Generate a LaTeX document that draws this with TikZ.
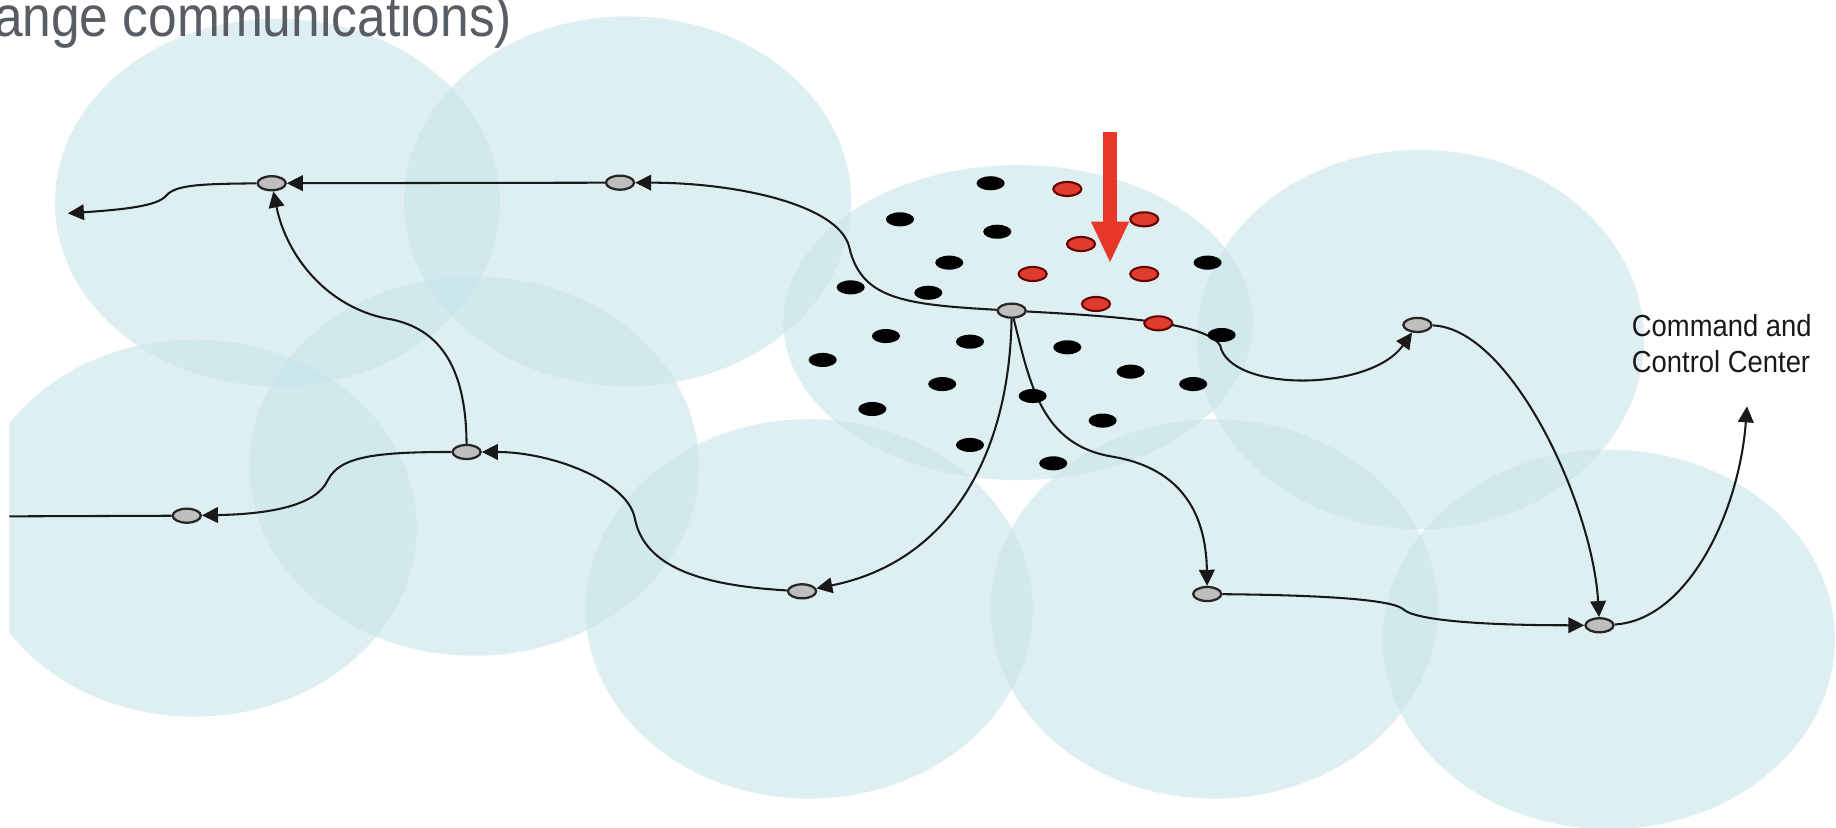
\documentclass[tikz,border=0pt]{standalone}
\usepackage{fontspec}
\usepackage{tikz}
\usetikzlibrary{positioning}
\usetikzlibrary{shapes.geometric}
\usetikzlibrary{arrows.meta}
\usepackage{xcolor}

\newfontfamily\narrowsans[FakeStretch=0.9]{Liberation Sans}
\definecolor{cellblue}{RGB}{200,228,234}
\definecolor{relaygray}{RGB}{190,190,190}
\definecolor{alertred}{RGB}{231,55,40}
\definecolor{hitred}{RGB}{222,60,45}
\definecolor{titlegray}{RGB}{88,93,99}

\tikzset{
  coverage/.style={fill=cellblue, fill opacity=0.6},
  relay/.style={ellipse, draw=black!85, line width=0.55pt, fill=relaygray, inner sep=0pt, minimum width=0.24cm, minimum height=0.12cm},
  sensor/.style={ellipse, fill=black, inner sep=0pt, minimum width=0.24cm, minimum height=0.12cm},
  hitsensor/.style={sensor, fill=hitred, draw=red!40!black, line width=0.5pt},
  hop/.style={draw=black!90, line width=0.5pt, -{Triangle[length=3.9pt,width=3.8pt]}}
}

\begin{document}
\begin{tikzpicture}[x=1cm, y=-1cm]
\useasboundingbox (0,0) rectangle (15.68,7.07);
\begin{scope}
  \clip (0.08,0) rectangle (15.68,7.07);
  % coverage areas
  \fill[coverage] (2.37,1.73) ellipse [x radius=1.9, y radius=1.57];
  \fill[coverage] (5.36,1.72) ellipse [x radius=1.91, y radius=1.58];
  \fill[coverage] (1.66,4.51) ellipse [x radius=1.9, y radius=1.61];
  \fill[coverage] (4.05,3.98) ellipse [x radius=1.92, y radius=1.62];
  \fill[coverage] (6.91,5.20) ellipse [x radius=1.91, y radius=1.62];
  \fill[coverage] (8.695,2.755) ellipse [x radius=2.005, y radius=1.345];
  \fill[coverage] (12.13,2.90) ellipse [x radius=1.91, y radius=1.62];
  \fill[coverage] (10.37,5.20) ellipse [x radius=1.91, y radius=1.62];
  \fill[coverage] (13.74,5.46) ellipse [x radius=1.93, y radius=1.62];

  % relay nodes
  \node[relay] (n1) at (2.32,1.565) {};
  \node[relay] (n2) at (5.295,1.56) {};
  \node[relay] (n3) at (8.64,2.653) {};
  \node[relay] (n4) at (12.105,2.775) {};
  \node[relay] (n5) at (3.985,3.86) {};
  \node[relay] (n6) at (1.595,4.404) {};
  \node[relay] (n7) at (6.85,5.05) {};
  \node[relay] (n8) at (10.31,5.073) {};
  \node[relay] (n9) at (13.66,5.34) {};
  \coordinate (wexit) at (0.58,1.822);
  \coordinate (wedge) at (0,4.41);
  \coordinate (cexit) at (14.92,3.47);

  % routes
  \draw[hop] (n2) -- (n1);
  \draw[hop] (n1) .. controls (1.70,1.57) and (1.50,1.58) .. (1.42,1.67) .. controls (1.35,1.76) and (1.05,1.79) .. (wexit);
  \draw[hop] (n3) .. controls (7.7,2.6) and (7.35,2.55) .. (7.25,2.1) .. controls (7.15,1.75) and (6.3,1.56) .. (n2);
  \draw[hop] (n5) .. controls (3.98,3.2) and (3.8,2.8) .. (3.3,2.72) .. controls (2.8,2.62) and (2.45,2.2) .. (n1);
  \draw[hop] (n5) .. controls (3.2,3.86) and (2.9,3.9) .. (2.8,4.1) .. controls (2.7,4.32) and (2.3,4.39) .. (n6);
  \draw[hop, -] (n6) -- (wedge);
  \draw[hop] (n7) .. controls (6.0,5.0) and (5.5,4.85) .. (5.42,4.42) .. controls (5.35,4.1) and (4.7,3.86) .. (n5);
  \draw[hop] (n3) .. controls (8.62,3.9) and (8.1,4.8) .. (n7);
  \draw[hop] (n3) .. controls (8.8,3.3) and (8.9,3.8) .. (9.5,3.9) .. controls (10.1,4.0) and (10.3,4.4) .. (n8);
  \draw[hop] (n3) .. controls (9.5,2.7) and (10.3,2.75) .. (10.42,2.95) .. controls (10.5,3.35) and (11.7,3.35) .. (n4);
  \draw[hop] (n4) .. controls (12.9,2.8) and (13.6,4.3) .. (n9);
  \draw[hop] (n8) .. controls (11.0,5.08) and (11.85,5.1) .. (11.98,5.2) .. controls (12.1,5.32) and (12.9,5.34) .. (n9);
  \draw[hop] (n9) .. controls (14.4,5.3) and (14.85,4.4) .. (cexit);

  % sensor field
  \foreach \x/\y [count=\i] in {8.46/1.565, 7.686/1.873, 8.517/1.979, 8.107/2.243, 7.265/2.454,
      7.928/2.50, 10.313/2.243, 7.566/2.87, 8.284/2.918, 7.026/3.074, 9.115/2.966, 10.433/2.861,
      9.656/3.174, 10.19/3.28, 8.047/3.28, 8.819/3.382, 7.45/3.493, 9.417/3.592, 8.284/3.80, 8.995/3.957}
    \node[sensor] (s\i) at (\x,\y) {};
  \foreach \x/\y [count=\i] in {9.115/1.614, 9.772/1.873, 9.232/2.084, 8.819/2.34, 9.772/2.34, 9.36/2.596, 9.892/2.761}
    \node[hitsensor] (h\i) at (\x,\y) {};
\end{scope}

% event marker
\coordinate (strike) at (9.48,1.124);
\coordinate (impact) at (9.48,2.249);
\draw[alertred, line width=0.114cm, -{Triangle[length=0.356cm,width=0.297cm]}] (strike) -- (impact);

\node[anchor=base east, inner sep=0pt, text=titlegray, font=\narrowsans\fontsize{13.9pt}{16pt}\selectfont] (title) at (4.38,0.31) {ange communications)};
\node[anchor=north west, inner sep=0pt, align=left, text=black!90, font=\narrowsans\fontsize{7.4pt}{8.93pt}\selectfont] (ccc) at (13.93,2.675) {Command and\\Control Center};
\end{tikzpicture}
\end{document}
